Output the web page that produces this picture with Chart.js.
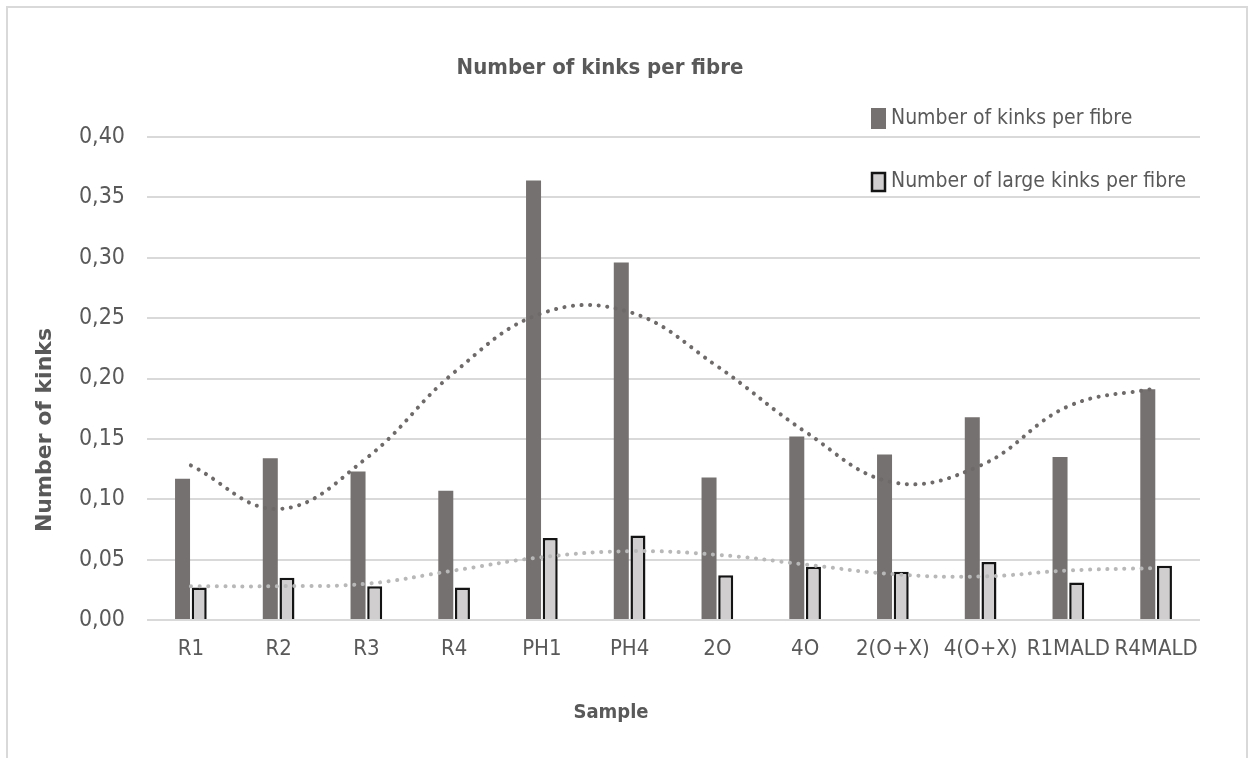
<!DOCTYPE html>
<html>
<head>
<meta charset="utf-8">
<script src="https://cdn.jsdelivr.net/npm/chart.js@4.4.1/dist/chart.umd.min.js"></script>
<style>
  html, body { margin: 0; padding: 0; background: #fff; }
  #moldura { position: absolute; left: 6px; top: 6px; width: 1238px; height: 760px; border: 2px solid #d9d9d9; border-bottom: none; }
  #area { position: absolute; left: 0; top: 0; width: 1252px; height: 758px; }
</style>
</head>
<body>
<div id="moldura"></div>
<div id="area"><canvas id="graficoKinks"></canvas></div>
<script>
// dados
const amostras = ['R1', 'R2', 'R3', 'R4', 'PH1', 'PH4', '2O', '4O', '2(O+X)', '4(O+X)', 'R1MALD', 'R4MALD'];
const kinksPorFibra = [0.117, 0.134, 0.123, 0.107, 0.364, 0.296, 0.118, 0.152, 0.137, 0.168, 0.135, 0.191];
const kinksGrandes = [0.027, 0.035, 0.028, 0.027, 0.068, 0.070, 0.037, 0.044, 0.040, 0.048, 0.031, 0.045];
// linhas de tendencia (valores lidos em cada amostra)
const tendKinks = [0.128, 0.092, 0.134, 0.205, 0.254, 0.255, 0.210, 0.156, 0.114, 0.128, 0.177, 0.192];
const tendGrandes = [0.028, 0.028, 0.030, 0.041, 0.052, 0.057, 0.054, 0.046, 0.038, 0.036, 0.041, 0.043];
const yMax = 0.40;
const yPasso = 0.05;

const fonte = "'Liberation Sans Narrow', 'DejaVu Sans Condensed', 'Liberation Sans', sans-serif";
const cinzaTexto = '#595959';
const corEscura = '#767171';
const corClara = '#d0cece';

// textos extras: titulo, titulos dos eixos e legenda
const textosExtras = {
    id: 'textosExtras',
    afterDraw(chart) {
        const ctx = chart.ctx;
        ctx.save();
        ctx.fillStyle = cinzaTexto;
        ctx.textBaseline = 'middle';

        ctx.font = 'bold 22px ' + fonte;
        ctx.textAlign = 'center';
        ctx.fillText('Number of kinks per fibre', 600, 68);

        ctx.font = 'bold 20px ' + fonte;
        ctx.fillText('Sample', 611, 713);

        ctx.save();
        ctx.translate(45, 430);
        ctx.rotate(-Math.PI / 2);
        ctx.font = "bold 22px 'DejaVu Sans', sans-serif";
        ctx.fillText('Number of kinks', 0, 0);
        ctx.restore();

        // legenda
        ctx.textAlign = 'left';
        ctx.font = '21px ' + fonte;
        ctx.fillStyle = corEscura;
        ctx.fillRect(871, 108, 15, 21);
        ctx.fillStyle = cinzaTexto;
        ctx.fillText(chart.data.datasets[0].label, 891, 119);

        ctx.fillStyle = corClara;
        ctx.fillRect(872, 173, 13, 18);
        ctx.strokeStyle = '#141414';
        ctx.lineWidth = 2.5;
        ctx.strokeRect(872, 173, 13, 18);
        ctx.fillStyle = cinzaTexto;
        ctx.fillText(chart.data.datasets[1].label, 891, 182);
        ctx.restore();
    }
};

const ctx = document.getElementById('graficoKinks').getContext('2d');
new Chart(ctx, {
    data: {
        labels: amostras,
        datasets: [
            {
                type: 'bar',
                label: 'Number of kinks per fibre',
                data: kinksPorFibra,
                backgroundColor: corEscura,
                borderWidth: 0,
                categoryPercentage: 0.38,
                barPercentage: 0.9,
                order: 2
            },
            {
                type: 'bar',
                label: 'Number of large kinks per fibre',
                data: kinksGrandes,
                backgroundColor: corClara,
                borderColor: '#141414',
                borderWidth: 2.5,
                categoryPercentage: 0.38,
                barPercentage: 0.9,
                order: 2
            },
            {
                type: 'line',
                label: 'Tendencia kinks',
                data: tendKinks,
                borderColor: '#6e6a6a',
                borderWidth: 4,
                borderDash: [0.1, 8.5],
                borderCapStyle: 'round',
                pointRadius: 0,
                tension: 0.4,
                fill: false,
                order: 0
            },
            {
                type: 'line',
                label: 'Tendencia kinks grandes',
                data: tendGrandes,
                borderColor: '#b8b8b8',
                borderWidth: 4,
                borderDash: [0.1, 8.5],
                borderCapStyle: 'round',
                pointRadius: 0,
                tension: 0.4,
                fill: false,
                order: 0
            }
        ]
    },
    options: {
        responsive: true,
        maintainAspectRatio: false,
        animation: false,
        devicePixelRatio: 1,
        layout: { padding: { left: 0, top: 137, right: 52, bottom: 0 } },
        plugins: {
            legend: { display: false },
            title: { display: false },
            tooltip: { enabled: false }
        },
        scales: {
            x: {
                grid: { display: false },
                border: { display: false },
                ticks: {
                    color: cinzaTexto,
                    font: { family: fonte, size: 22 },
                    padding: 8,
                    maxRotation: 0,
                    autoSkip: false
                },
                afterFit: (escala) => { escala.height = 138; }
            },
            y: {
                min: 0,
                max: yMax,
                grid: { color: '#d9d9d9', lineWidth: 2, drawTicks: false },
                border: { display: false },
                ticks: {
                    stepSize: yPasso,
                    color: cinzaTexto,
                    font: { family: fonte, size: 23 },
                    padding: 22,
                    callback: (v) => v.toFixed(2).replace('.', ',')
                },
                afterFit: (escala) => { escala.width = 147; }
            }
        }
    },
    plugins: [textosExtras]
});
</script>
</body>
</html>
